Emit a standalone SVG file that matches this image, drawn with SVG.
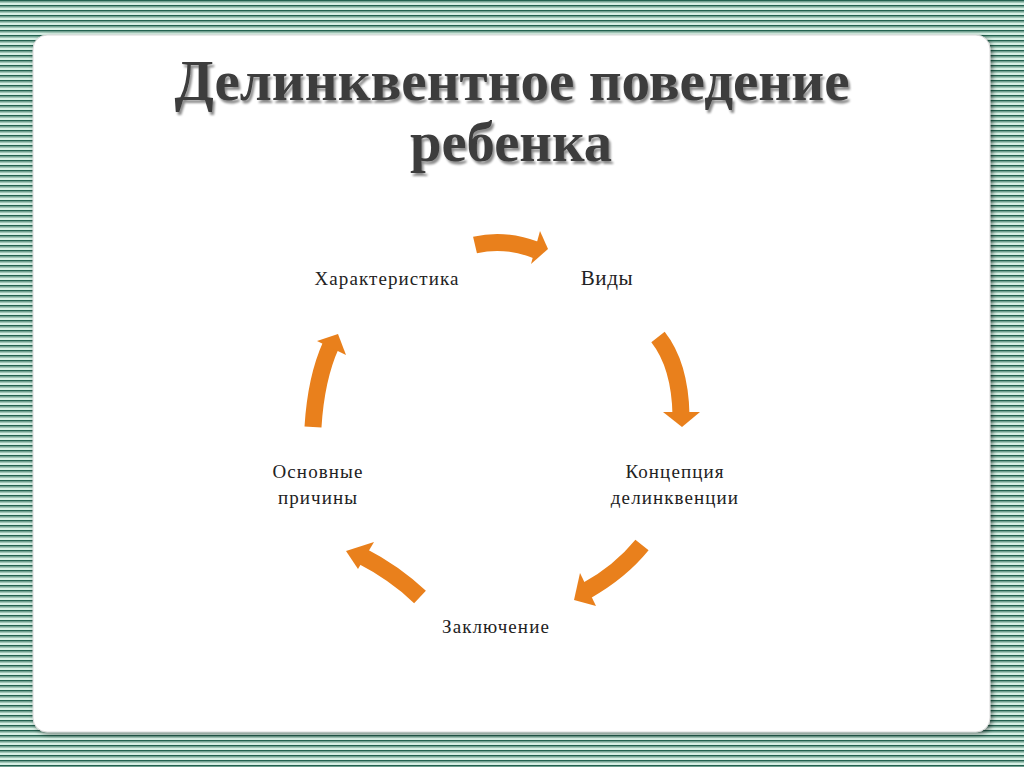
<svg xmlns="http://www.w3.org/2000/svg" width="1024" height="767" viewBox="0 0 1024 767">
<defs>
<pattern id="stripes" x="0" y="0" width="8" height="5" patternUnits="userSpaceOnUse">
<rect x="0" y="0" width="8" height="5" fill="#d6efe4"/>
<rect x="0" y="0" width="8" height="1.6" fill="#22614f"/>
<rect x="0" y="1.6" width="8" height="1" fill="#7fae9c"/>
</pattern>
<filter id="panelShadow" x="-5%" y="-5%" width="110%" height="110%">
<feDropShadow dx="2" dy="2" stdDeviation="2.5" flood-color="#000" flood-opacity="0.45"/>
</filter>
<filter id="titleShadow" x="-5%" y="-20%" width="110%" height="140%">
<feDropShadow dx="2" dy="3" stdDeviation="1.2" flood-color="#000" flood-opacity="0.45"/>
</filter>
<style>
.title{font-family:"Liberation Serif","DejaVu Serif",serif;font-weight:bold;font-size:56px;fill:#3c3c3c;text-anchor:middle;filter:url(#titleShadow)}
.lbl{font-family:"Liberation Serif","DejaVu Serif",serif;font-size:19px;fill:#222;text-anchor:middle;letter-spacing:1.1px}
.body{fill:none;stroke:#e9801c;stroke-width:17;stroke-linecap:butt}
.head{fill:#e9801c}
</style>
</defs>
<rect x="0" y="0" width="1024" height="767" fill="url(#stripes)"/>
<rect x="33" y="35" width="957" height="697" rx="14" ry="14" fill="#ffffff" stroke="#d8d8d8" stroke-width="1" filter="url(#panelShadow)"/>
<g id="title">
<text class="title" x="512" y="100" textLength="675" lengthAdjust="spacingAndGlyphs">Делинквентное поведение</text>
<text class="title" x="511" y="161" textLength="202" lengthAdjust="spacingAndGlyphs">ребенка</text>
</g>
<g id="connectors">
<path class="body" d="M475,245 Q505,238 536,250"/>
<polygon class="head" points="540,231 548,249 531,264"/>
<path class="body" d="M658,337 Q680,365 681,415"/>
<polygon class="head" points="663,412 682,427 700,412"/>
<path class="body" d="M642,545 Q620,572 586,591"/>
<polygon class="head" points="580,573 574,600 596,606"/>
<path class="body" d="M420,597 Q395,573 360,555"/>
<polygon class="head" points="374,542 346,551 358,569"/>
<path class="body" d="M313,427 Q316,378 331,345"/>
<polygon class="head" points="317,341 338,334 346,355"/>
</g>
<g id="node-harakteristika"><text class="lbl" x="387" y="285">Характеристика</text></g>
<g id="node-vidy"><text class="lbl" x="607" y="285" style="font-size:21px;letter-spacing:0.6px">Виды</text></g>
<g id="node-koncepciya"><text class="lbl" x="675" y="478">Концепция</text><text class="lbl" x="675" y="504">делинквенции</text></g>
<g id="node-zaklyuchenie"><text class="lbl" x="496" y="633">Заключение</text></g>
<g id="node-osnovnye"><text class="lbl" x="318" y="478">Основные</text><text class="lbl" x="318" y="504">причины</text></g>
</svg>
